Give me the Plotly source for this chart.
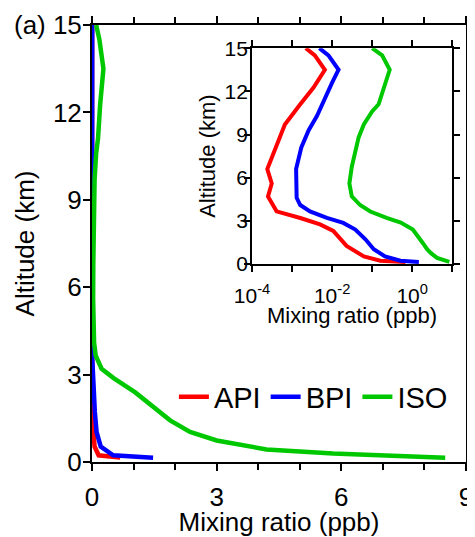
import plotly.graph_objects as go

# ---- data (altitude in km, mixing ratio in ppb) ----
api_alt = [0.15, 0.23, 0.53, 1.26, 2.3, 2.75, 3.2, 3.66, 4.7, 5.6, 6.6, 7.4, 8.6, 9.7, 11.1, 12.25, 13.5, 14.5, 15.0]
api_val = [0.68, 0.16, 0.062, 0.023, 0.0107, 0.005, 0.0016, 0.00041, 0.00025, 0.00031, 0.00024, 0.00031,
           0.00045, 0.00066, 0.0016, 0.0034, 0.0066, 0.0037, 0.0022]

bpi_alt = [0.15, 0.23, 0.53, 1.03, 1.72, 2.4, 2.86, 3.2, 3.66, 4.1, 4.6, 6.6, 8.1, 9.3, 10.3, 11.3, 12.6, 13.5, 14.5, 15.0]
bpi_val = [1.47, 0.51, 0.21, 0.11, 0.068, 0.038, 0.019, 0.0074, 0.0028, 0.0016, 0.0013, 0.00126, 0.0017,
           0.0026, 0.0042, 0.006, 0.01, 0.0145, 0.0081, 0.0048]

iso_alt = [0.15, 0.29, 0.43, 0.74, 1.03, 1.43, 2.39, 2.88, 3.2, 3.65, 4.1, 4.7, 5.6, 6.75, 7.9, 8.8, 9.7, 10.6,
           11.1, 12.25, 13.5, 14.5, 15.0]
iso_val = [8.5, 5.8, 4.2, 3.0, 2.36, 1.88, 1.04, 0.52, 0.23, 0.09, 0.05, 0.031, 0.027, 0.031, 0.038, 0.046,
           0.062, 0.1, 0.145, 0.195, 0.275, 0.178, 0.1]

series_names = ["API", "BPI", "ISO"]
series_colors = ["#FF0000", "#0000FF", "#00C800"]

main_x_ticks = [0, 3, 6, 9]
main_y_ticks = [0, 3, 6, 9, 12, 15]
inset_x_tickvals = [1e-4, 1e-3, 1e-2, 1e-1, 1, 10]
inset_x_ticktext = ["10<sup>-4</sup>", "", "10<sup>-2</sup>", "", "10<sup>0</sup>", ""]
inset_y_ticks = [0, 3, 6, 9, 12, 15]

FONT = "Liberation Sans, Arial, sans-serif"

fig = go.Figure()
data = [(api_alt, api_val), (bpi_alt, bpi_val), (iso_alt, iso_val)]
for (alt, val), name, col in zip(data, series_names, series_colors):
    fig.add_trace(go.Scatter(x=val, y=alt, mode="lines", name=name,
                             line=dict(color=col, width=4.5),
                             xaxis="x", yaxis="y"))
for (alt, val), name, col in zip(data, series_names, series_colors):
    fig.add_trace(go.Scatter(x=val, y=alt, mode="lines", name=name, showlegend=False,
                             line=dict(color=col, width=4),
                             xaxis="x2", yaxis="y2"))

axis_common = dict(showline=True, linecolor="black", linewidth=2, mirror="ticks",
                   ticks="outside", tickcolor="black", tickwidth=2, showgrid=False,
                   zeroline=False, automargin=False)

# page body has an 8px margin, so the figure is sized to fill the rest of the window
fig.update_layout(
    width=467, height=529,
    margin=dict(l=84, r=9, t=17, b=75),
    paper_bgcolor="white", plot_bgcolor="white",
    font=dict(family=FONT, color="black"),
    xaxis=dict(**axis_common, domain=[0, 1], range=[0, 9], tickvals=main_x_ticks, ticklen=7,
               minor=dict(dtick=1, ticks="outside", ticklen=6, tickwidth=2, tickcolor="black"),
               tickfont=dict(size=26), layer="below traces", ticklabelstandoff=4,
               title=dict(text="Mixing ratio (ppb)", font=dict(size=26), standoff=3)),
    yaxis=dict(**axis_common, domain=[0, 1], range=[0, 15], tickvals=main_y_ticks, ticklen=7,
               tickfont=dict(size=26), layer="below traces", ticklabelstandoff=-4,
               title=dict(text="Altitude (km)", font=dict(size=26), standoff=11)),
    xaxis2=dict(**axis_common, type="log", domain=[0.428, 0.963], range=[-4, 1],
                tickvals=inset_x_tickvals, ticktext=inset_x_ticktext, ticklen=6,
                tickfont=dict(size=21), anchor="y2", ticklabelstandoff=6),
    yaxis2=dict(**axis_common, domain=[0.453, 0.947], range=[0, 15], tickvals=inset_y_ticks,
                ticklen=6, tickfont=dict(size=21), anchor="x2", ticklabelstandoff=-8,
                title=dict(text="Altitude (km)", font=dict(size=22), standoff=3)),
    legend=dict(orientation="h", x=0.965, xanchor="right", y=0.149, yanchor="middle",
                font=dict(size=29), bgcolor="rgba(0,0,0,0)", itemwidth=30),
    annotations=[
        dict(text="(a)", xref="paper", yref="paper", x=-0.214, y=1.0,
             xanchor="left", yanchor="middle", showarrow=False, font=dict(size=26)),
        dict(text="Mixing ratio (ppb)", xref="x2 domain", yref="paper", x=0.5, y=0.336,
             xanchor="center", yanchor="middle", showarrow=False, font=dict(size=22)),
    ],
)

fig.write_html("out.html")
